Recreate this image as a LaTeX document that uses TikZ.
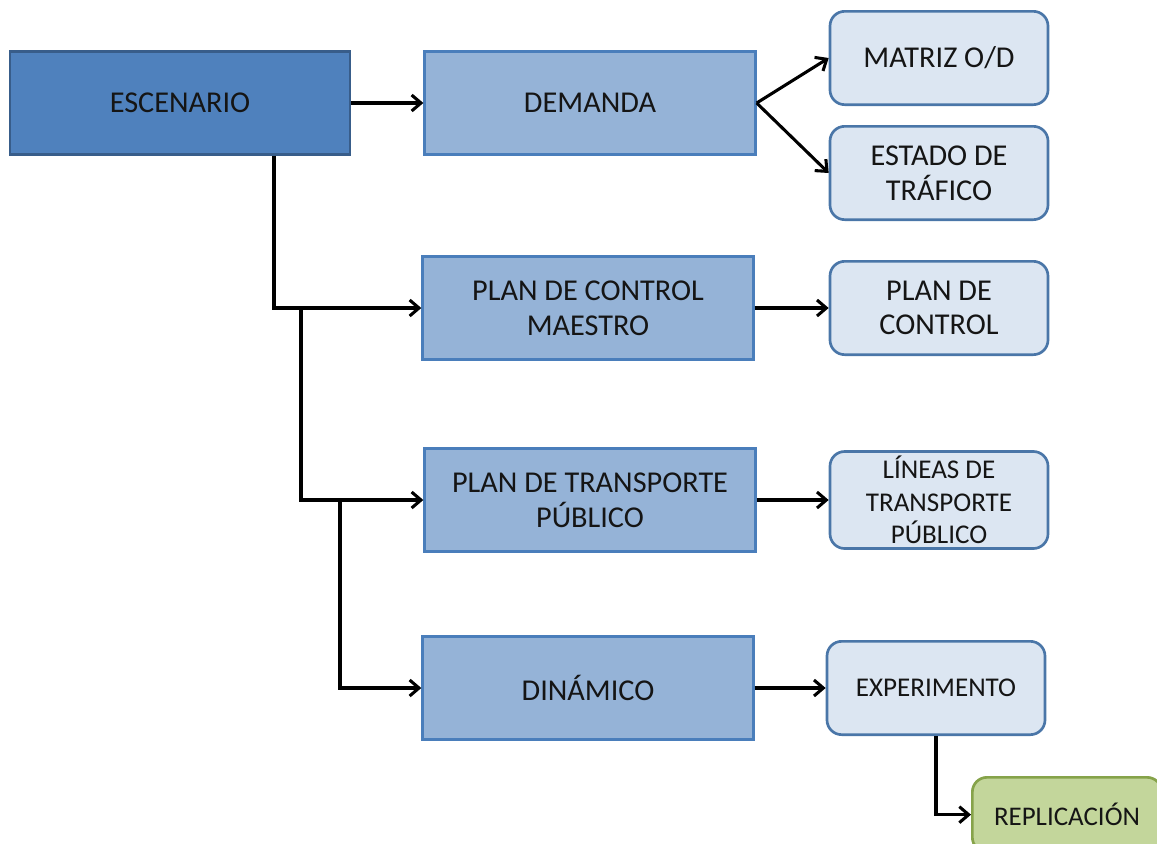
\documentclass[tikz,border=0pt]{standalone}
\usepackage{fontspec}
\setmainfont{Carlito}
\usepackage{tikz}
\usetikzlibrary{arrows.meta,positioning,calc}

\definecolor{darkblue}{HTML}{4F81BD}
\definecolor{darkline}{HTML}{385D8A}
\definecolor{midblue}{HTML}{95B3D7}
\definecolor{midline}{HTML}{4A7EBB}
\definecolor{paleblue}{HTML}{DCE6F2}
\definecolor{paleline}{HTML}{4A76A8}
\definecolor{palegreen}{HTML}{C3D69B}
\definecolor{greenline}{HTML}{86A34A}
\definecolor{txt}{HTML}{151515}

\begin{document}
\begin{tikzpicture}[x=0.75pt,y=-0.75pt]
\tikzset{
  topbox/.style={draw=darkline, fill=darkblue, line width=2pt,
    minimum width=255pt, minimum height=77pt, text=txt,
    font=\fontsize{22.7}{26}\selectfont},
  midbox/.style={draw=midline, fill=midblue, line width=2pt,
    minimum width=248pt, minimum height=77pt, text=txt, align=center,
    font=\fontsize{22.7}{26}\selectfont},
  leafbox/.style={draw=paleline, fill=paleblue, line width=2pt,
    rounded corners=11pt, minimum width=163.5pt, minimum height=70pt,
    text=txt, align=center, font=\fontsize{22.7}{26}\selectfont},
  smalltext/.style={font=\fontsize{20.3}{24.5}\selectfont},
  endbox/.style={draw=greenline, fill=palegreen, line width=2pt,
    rounded corners=11pt, minimum width=142pt, minimum height=56pt,
    text=txt, font=\fontsize{20.2}{23}\selectfont},
  arr/.style={-{Straight Barb[length=7pt,width=12pt]}, line width=2.3pt, black}
}
\useasboundingbox (0,0) rectangle (1157,843);

\node[topbox] (escenario) at (180,103) {ESCENARIO};
\node[midbox] (demanda) at (590,103) {DEMANDA};
\node[midbox] (maestro) at (588,308) {PLAN DE CONTROL\\MAESTRO};
\node[midbox] (transporte) at (590,500) {PLAN DE TRANSPORTE\\PÚBLICO};
\node[midbox] (dinamico) at (588,688) {DINÁMICO};

\node[leafbox] (matriz) at (939,58) {MATRIZ O/D};
\node[leafbox] (estado) at (939,173) {ESTADO DE\\TRÁFICO};
\node[leafbox] (control) at (939,308) {PLAN DE\\CONTROL};
\node[leafbox, smalltext] (lineas) at (939,500) {LÍNEAS DE\\TRANSPORTE\\PÚBLICO};
\node[leafbox, smalltext] (experimento) at (936,688) {EXPERIMENTO};
\node[endbox, anchor=north west] (replicacion) at (971,776) {REPLICACIÓN};

\coordinate (j1) at (274,0);
\coordinate (j2) at (301,0);
\coordinate (j3) at (340,0);

\draw[arr] (escenario.east) -- (demanda.west);
\draw[arr] (escenario.south -| j1) |- (maestro.west);
\draw[arr] (j2 |- maestro.west) |- (transporte.west);
\draw[arr] (j3 |- transporte.west) |- (dinamico.west);

\draw[arr] (demanda.east) -- (matriz.west);
\draw[arr] (demanda.east) -- (estado.west);
\draw[arr] (maestro.east) -- (control.west);
\draw[arr] (transporte.east) -- (lineas.west);
\draw[arr] (dinamico.east) -- (experimento.west);
\draw[arr] (experimento.south) |- (replicacion.west);

\end{tikzpicture}
\end{document}
